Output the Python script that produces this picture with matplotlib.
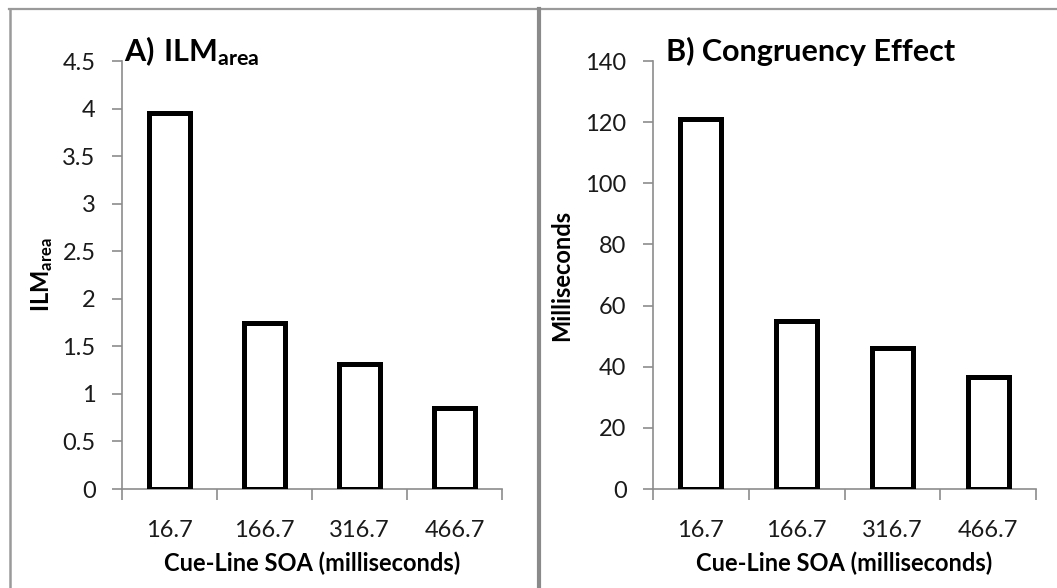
import matplotlib
matplotlib.use('Agg')
import matplotlib.pyplot as plt
from matplotlib.lines import Line2D
from matplotlib.ticker import MultipleLocator, FixedLocator, NullFormatter

plt.rcParams['font.family'] = 'Lato'
plt.rcParams['mathtext.fontset'] = 'custom'
plt.rcParams['mathtext.rm'] = 'Lato'
plt.rcParams['mathtext.bf'] = 'Lato:bold'

soa = ['16.7', '166.7', '316.7', '466.7']
ilm_area = [3.95, 1.75, 1.31, 0.85]
congruency_ms = [121, 55, 46, 36.5]

spine_col = '#8c8c8c'
W, H = 1057, 588

fig = plt.figure(figsize=(W / 100, H / 100), dpi=100)

# panel frame lines
fig.add_artist(Line2D([9 / W, 1], [1 - 9 / H, 1 - 9 / H], color='#9a9a9a', lw=1.6))
fig.add_artist(Line2D([10 / W, 10 / W], [0, 1 - 9 / H], color='#9a9a9a', lw=1.8))
fig.add_artist(Line2D([539 / W, 539 / W], [0, 1 - 9 / H], color='#8a8a8a', lw=3.0))

ax1 = fig.add_axes([122 / W, 99 / H, 380 / W, 428 / H])
ax2 = fig.add_axes([653 / W, 99 / H, 383 / W, 428 / H])


def style(ax, vals, ymax, step):
    x = range(len(vals))
    ax.bar(x, vals, width=0.43, color='white', edgecolor='black', linewidth=3.6, zorder=3)
    ax.set_xlim(-0.5, len(vals) - 0.5)
    ax.set_ylim(0, ymax)
    ax.yaxis.set_major_locator(MultipleLocator(step))
    ax.yaxis.set_major_formatter(plt.FuncFormatter(lambda v, p: f'{v:g}'))
    ax.set_xticks(list(x))
    ax.set_xticklabels(soa)
    ax.xaxis.set_minor_locator(FixedLocator([i - 0.5 for i in range(len(vals) + 1)]))
    ax.xaxis.set_minor_formatter(NullFormatter())
    ax.tick_params(axis='x', which='major', length=0, pad=22, labelsize=17, labelcolor='#1a1a1a')
    ax.tick_params(axis='x', which='minor', length=8, width=1.2, color=spine_col, direction='out')
    ax.tick_params(axis='y', length=7, width=1.2, color=spine_col, direction='out',
                   pad=12, labelsize=17, labelcolor='#1a1a1a')
    for s in ['top', 'right']:
        ax.spines[s].set_visible(False)
    for s in ['left', 'bottom']:
        ax.spines[s].set_color(spine_col)
        ax.spines[s].set_linewidth(1.2)
    ax.set_xlabel('Cue-Line SOA (milliseconds)', fontsize=17, fontweight='bold')
    ax.xaxis.set_label_coords(0.5, -0.147)


style(ax1, ilm_area, 4.5, 0.5)
style(ax2, congruency_ms, 140, 20)

ax1.set_ylabel(r'$\mathbf{ILM_{area}}$', fontsize=17)
ax1.yaxis.set_label_coords(-0.176, 0.5)
ax2.set_ylabel('Milliseconds', fontsize=17, fontweight='bold')
ax2.yaxis.set_label_coords(-0.209, 0.5)

ax1.text(0.005, 1.0, r'$\mathbf{A)\ ILM_{area}}$', transform=ax1.transAxes,
         fontsize=22, va='baseline', ha='left')
ax2.text(0.034, 1.0, 'B) Congruency Effect', transform=ax2.transAxes,
         fontsize=22, fontweight='bold', va='baseline', ha='left')

fig.savefig('out.png', dpi=100)
